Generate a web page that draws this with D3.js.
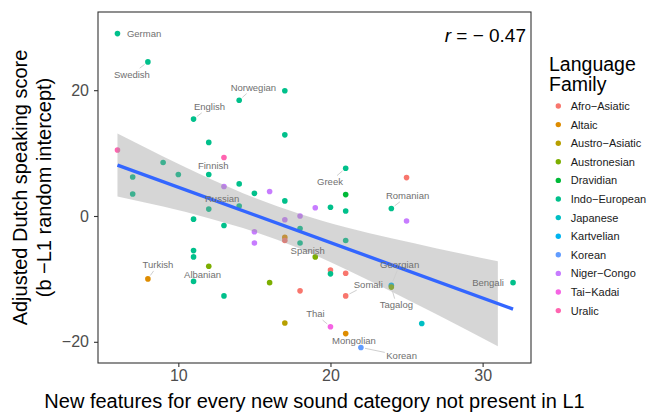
<!DOCTYPE html>
<meta charset="utf-8">
<html>
<head>
<script src="https://d3js.org/d3.v7.min.js"></script>
<style>
  body { margin: 0; background: #fff; }
  text { font-family: "Liberation Sans", Arial, Helvetica, sans-serif; }
</style>
</head>
<body>
<div id="my_dataviz"></div>
<script>
// legend order + ggplot hue colours
const families = ["Afro-Asiatic", "Altaic", "Austro-Asiatic", "Austronesian", "Dravidian", "Indo-European",
  "Japanese", "Kartvelian", "Korean", "Niger-Congo", "Tai-Kadai", "Uralic"];
const familyColors = ["#F8766D", "#DE8C00", "#B79F00", "#7CAE00", "#00BA38", "#00C08B",
  "#00BFC4", "#00B4F0", "#619CFF", "#C77CFF", "#F564E3", "#FF64B0"];

// one entry per L1 ("" = no label)
const langName = ["German", "Swedish", "Norwegian", "", "English", "", "", "", "Finnish", "",
  "", "", "", "", "", "", "", "", "", "Russian",
  "", "", "", "", "", "", "", "Turkish", "Albanian", "",
  "", "Greek", "", "", "", "", "", "", "Romanian", "",
  "", "", "", "", "", "Spanish", "", "", "", "",
  "", "", "Somali", "Georgian", "Tagalog", "Bengali", "", "Thai", "Mongolian", "Korean", ""];
const langX = [6, 8, 14, 17, 11, 17, 12, 6, 13, 9,
  10, 12, 7, 7, 13, 14, 15, 16, 14, 12,
  11, 13, 15, 15, 11, 11, 12, 8, 11, 13,
  16, 21, 25, 17, 21, 19, 20, 21, 24, 25,
  18, 17, 18, 17, 17, 18, 21, 19, 20, 20,
  21, 18, 21, 24, 24, 32, 17, 20, 21, 22, 26];
const langY = [29.0, 24.5, 18.4, 19.9, 15.4, 12.9, 11.7, 10.5, 9.3, 8.5,
  6.6, 6.6, 6.2, 3.5, 4.7, 5.1, 3.6, 3.9, 1.6, 1.1,
  -0.5, -1.5, -2.5, -4.3, -5.5, -6.5, -8.0, -10.0, -10.4, -12.7,
  -10.6, 7.6, 6.1, 2.4, 3.4, 1.3, 1.4, 0.8, 1.2, -0.8,
  0.0, -0.6, -2.0, -3.4, -3.9, -4.3, -3.9, -6.5, -8.6, -9.2,
  -9.1, -11.9, -12.7, -11.0, -11.3, -10.6, -17.0, -17.6, -18.7, -20.9, -17.1];
const langFamily = ["Indo-European", "Indo-European", "Indo-European", "Indo-European", "Indo-European",
  "Indo-European", "Indo-European", "Uralic", "Uralic", "Indo-European",
  "Indo-European", "Indo-European", "Indo-European", "Indo-European", "Niger-Congo",
  "Indo-European", "Indo-European", "Niger-Congo", "Indo-European", "Indo-European",
  "Indo-European", "Indo-European", "Niger-Congo", "Niger-Congo", "Indo-European",
  "Indo-European", "Austronesian", "Altaic", "Indo-European", "Indo-European",
  "Austronesian", "Indo-European", "Afro-Asiatic", "Indo-European", "Dravidian",
  "Niger-Congo", "Indo-European", "Indo-European", "Indo-European", "Niger-Congo",
  "Niger-Congo", "Niger-Congo", "Indo-European", "Altaic", "Afro-Asiatic",
  "Indo-European", "Indo-European", "Austronesian", "Afro-Asiatic", "Indo-European",
  "Afro-Asiatic", "Afro-Asiatic", "Afro-Asiatic", "Kartvelian", "Austronesian",
  "Indo-European", "Austro-Asiatic", "Tai-Kadai", "Altaic", "Korean", "Japanese"];

// linear fit and its confidence band
const fitX = [6, 32];
const fitY = [8.1, -14.8];
const bandX = [6, 9, 12, 15, 18, 21, 24, 27, 31];
const bandLow = [3.1, 1.5, -0.35, -2.5, -5.2, -8.45, -12.0, -15.65, -20.7];
const bandHigh = [13.1, 9.45, 6.0, 2.9, 0.3, -1.8, -3.55, -5.15, -7.2];

const xTicks = [10, 20, 30];
const yTicks = [-20, 0, 20];

// where the repelled labels ended up, in px from their point
const labelNudge = {
  German: [26.6, 0], Swedish: [-16, 12.3], Norwegian: [14.2, -12.7], English: [16, -12.3],
  Finnish: [-10.7, 8.4], Russian: [13.4, -10], Greek: [-15.7, 13.4], Romanian: [16.3, -12.6],
  Turkish: [10, -14], Albanian: [9, -6.7], Spanish: [7.7, 7.7], Georgian: [8.3, -20.7],
  Somali: [22.6, -11.7], Tagalog: [5, 17.6], Bengali: [-25, 0], Thai: [-15, -12.7],
  Mongolian: [8.3, 6.7], Korean: [40.7, 8.4]
};

const W = 648, H = 412;
const panel = {left: 98, right: 531, top: 12, bottom: 363};
const minus = s => String(s).replace(/-/g, "\u2212");

const svg = d3.select("#my_dataviz").append("svg")
  .attr("width", W).attr("height", H);

const x = d3.scaleLinear().domain([4.72, 33.18]).range([panel.left, panel.right]);
const y = d3.scaleLinear().domain([-23.37, 32.43]).range([panel.bottom, panel.top]);
const color = d3.scaleOrdinal().domain(families).range(familyColors);

const data = langX.map((v, i) => ({name: langName[i], x: v, y: langY[i], fam: langFamily[i]}));

// points
svg.append("g")
  .selectAll("circle")
  .data(data)
  .join("circle")
    .attr("cx", d => x(d.x))
    .attr("cy", d => y(d.y))
    .attr("r", 2.8)
    .attr("fill", d => color(d.fam));

// confidence band drawn on top, like geom_smooth
const band = bandX.map((v, i) => ({x: v, lo: bandLow[i], hi: bandHigh[i]}));
svg.append("path")
  .datum(band)
  .attr("fill", "#999999")
  .attr("fill-opacity", 0.4)
  .attr("d", d3.area()
    .x(d => x(d.x))
    .y0(d => y(d.lo))
    .y1(d => y(d.hi))
    .curve(d3.curveMonotoneX));

svg.append("path")
  .datum(fitX.map((v, i) => [v, fitY[i]]))
  .attr("fill", "none")
  .attr("stroke", "#3366FF")
  .attr("stroke-width", 3.4)
  .attr("d", d3.line().x(d => x(d[0])).y(d => y(d[1])));

// labels + segments
const lab = svg.append("g");
data.filter(d => d.name !== "").forEach(d => {
  const px = x(d.x), py = y(d.y);
  const nd = labelNudge[d.name] || [0, -10];
  const cx = px + nd[0], cy = py + nd[1];
  const t = lab.append("text")
    .attr("x", cx).attr("y", cy).attr("dy", "0.35em")
    .attr("text-anchor", "middle")
    .attr("font-size", 9.5)
    .attr("fill", "#707070")
    .text(d.name);
  const w = t.node().getComputedTextLength();
  const pad = 1.5, hw = w / 2 + pad, hh = 4.5 + pad;
  const dx = cx - px, dy = cy - py;
  const k = Math.min(dx ? hw / Math.abs(dx) : Infinity, dy ? hh / Math.abs(dy) : Infinity);
  const ex = cx - dx * k, ey = cy - dy * k;
  const len = Math.hypot(dx, dy);
  const sx = px + dx / len * 4.2, sy = py + dy / len * 4.2;
  if (Math.hypot(ex - sx, ey - sy) > 4 && k < 1) {
    lab.insert("line", "text")
      .attr("x1", sx).attr("y1", sy).attr("x2", ex).attr("y2", ey)
      .attr("stroke", "#cfcfcf").attr("stroke-width", 1);
  }
});

// panel border
svg.append("rect")
  .attr("x", panel.left).attr("y", panel.top)
  .attr("width", panel.right - panel.left).attr("height", panel.bottom - panel.top)
  .attr("fill", "none").attr("stroke", "#333333").attr("stroke-width", 1.1);

// axes
const xAxis = svg.append("g")
  .attr("transform", `translate(0,${panel.bottom})`)
  .call(d3.axisBottom(x).tickValues(xTicks).tickSize(4).tickPadding(3).tickFormat(minus));
const yAxis = svg.append("g")
  .attr("transform", `translate(${panel.left},0)`)
  .call(d3.axisLeft(y).tickValues(yTicks).tickSize(4).tickPadding(5).tickFormat(minus));
[xAxis, yAxis].forEach(a => {
  a.select(".domain").remove();
  a.selectAll(".tick line").attr("stroke", "#333333").attr("stroke-width", 1.1);
  a.selectAll(".tick text").attr("fill", "#4D4D4D").attr("font-size", 16)
    .attr("font-family", "Liberation Sans, Arial, sans-serif");
});

// axis titles
svg.append("text")
  .attr("x", (panel.left + panel.right) / 2).attr("y", 408)
  .attr("text-anchor", "middle").attr("font-size", 20).attr("fill", "#000")
  .text("New features for every new sound category not present in L1");

const yt = svg.append("g").attr("font-size", 20).attr("fill", "#000");
yt.append("text")
  .attr("transform", `translate(26.5,${(panel.top + panel.bottom) / 2}) rotate(-90)`)
  .attr("text-anchor", "middle")
  .text("Adjusted Dutch speaking score");
yt.append("text")
  .attr("transform", `translate(51,${(panel.top + panel.bottom) / 2}) rotate(-90)`)
  .attr("text-anchor", "middle")
  .text("(b \u2212L1 random intercept)");

// correlation
const rt = svg.append("text")
  .attr("x", 526).attr("y", 41.7)
  .attr("text-anchor", "end").attr("font-size", 19).attr("fill", "#000");
rt.append("tspan").attr("font-style", "italic").text("r");
rt.append("tspan").text(" = \u2212 0.47");

// legend
const lg = svg.append("g");
lg.append("text").attr("x", 549).attr("y", 70.8).attr("font-size", 19.5).text("Language");
lg.append("text").attr("x", 549).attr("y", 91).attr("font-size", 19.5).text("Family");
const item = lg.selectAll("g.item")
  .data(families)
  .join("g")
    .attr("class", "item")
    .attr("transform", (d, i) => `translate(0,${106 + i * 18.6})`);
item.append("circle").attr("cx", 558.3).attr("cy", 0).attr("r", 2.7).attr("fill", d => color(d));
item.append("text").attr("x", 570.7).attr("y", 0).attr("dy", "0.36em")
  .attr("font-size", 11).attr("fill", "#1a1a1a")
  .text(d => minus(d));
</script>
</body>
</html>
